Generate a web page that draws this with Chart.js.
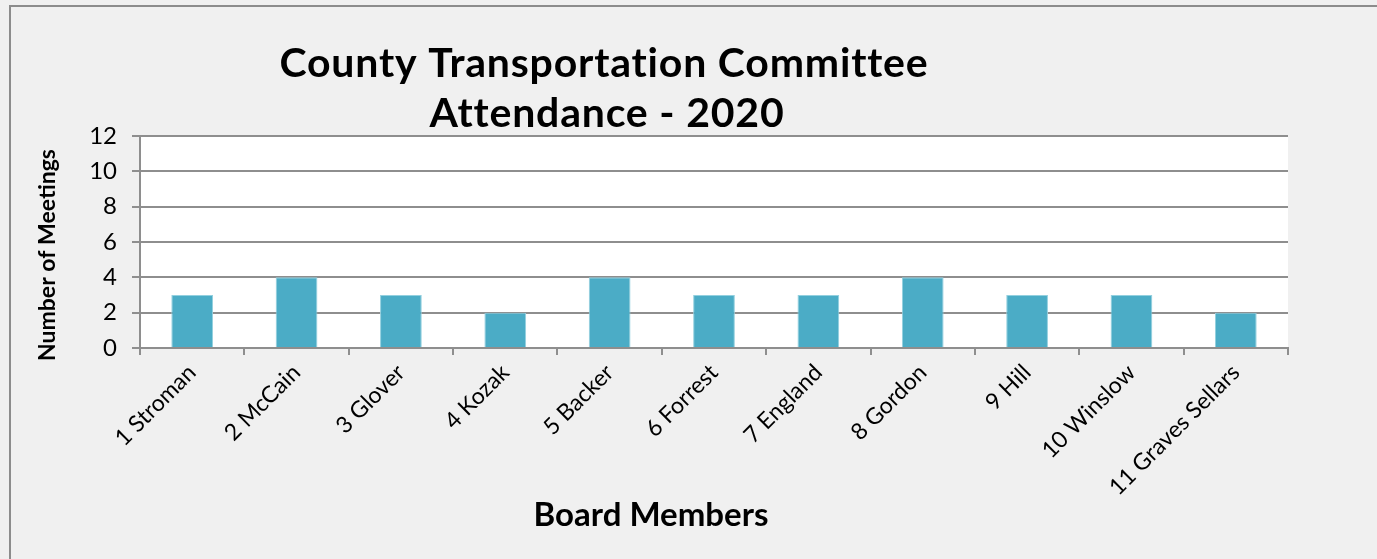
<!DOCTYPE html>
<html>
<head>
<meta charset="utf-8">
<title>County Transportation Committee Attendance - 2020</title>
<script src="https://cdn.jsdelivr.net/npm/chart.js@4"></script>
<style>
  html, body { margin: 0; padding: 0; background: #f0f0f0; }
  #wrap { position: relative; width: 1377px; height: 559px; }
  #frame { position: absolute; left: 9px; top: 5px; right: 0; bottom: 0;
           border-top: 2px solid #8c8c8c; border-left: 2px solid #8c8c8c; }
  canvas { position: absolute; left: 0; top: 0; }
</style>
</head>
<body>
<div id="wrap">
  <div id="frame"></div>
  <canvas id="chartAsistencia" width="1377" height="559"></canvas>
</div>
<script>
// Datos de asistencia por miembro de la junta
const miembros = ['1 Stroman', '2 McCain', '3 Glover', '4 Kozak', '5 Backer', '6 Forrest',
                  '7 England', '8 Gordon', '9 Hill', '10 Winslow', '11 Graves Sellars'];
const reuniones = [3, 4, 3, 2, 4, 3, 3, 4, 3, 3, 2];
const tituloLineas = ['County Transportation Committee', 'Attendance - 2020'];
const tituloEjeY = 'Number of Meetings';
const tituloEjeX = 'Board Members';

const colorRejilla = '#8e8e8e';
const fuente = 'Lato, "Open Sans", sans-serif';

// Fondo blanco del área de trazado
const fondoArea = {
    id: 'fondoArea',
    beforeDraw(chart) {
        const { ctx, chartArea: a } = chart;
        ctx.save();
        ctx.fillStyle = '#ffffff';
        ctx.fillRect(a.left, a.top, a.right - a.left, a.bottom - a.top);
        ctx.restore();
    }
};

// Títulos dibujados en posiciones fijas
const textos = {
    id: 'textos',
    afterDraw(chart) {
        const ctx = chart.ctx;
        ctx.save();
        ctx.fillStyle = '#000000';
        ctx.textAlign = 'center';
        ctx.textBaseline = 'alphabetic';

        // un poco de espaciado evita las ligaduras "tt"
        ctx.letterSpacing = '0.8px';
        ctx.font = `bold 41px ${fuente}`;
        ctx.fillText(tituloLineas[0], 604, 77);
        ctx.fillText(tituloLineas[1], 607, 127);
        ctx.letterSpacing = '0px';

        ctx.font = `bold 33px ${fuente}`;
        ctx.fillText(tituloEjeX, 651, 526);

        ctx.translate(55, 255);
        ctx.rotate(-Math.PI / 2);
        ctx.font = `bold 23px ${fuente}`;
        ctx.fillText(tituloEjeY, 0, 0);
        ctx.restore();
    }
};

const ctxAsistencia = document.getElementById('chartAsistencia').getContext('2d');

const asistenciaChart = new Chart(ctxAsistencia, {
    type: 'bar',
    data: {
        labels: miembros,
        datasets: [{
            data: reuniones,
            backgroundColor: '#4bacc6',
            borderColor: '#93d0df',
            borderWidth: 1,
            barPercentage: 0.4,
            categoryPercentage: 1.0
        }]
    },
    options: {
        responsive: false,
        animation: false,
        layout: { padding: { left: 0, right: 89, top: 136, bottom: 0 } },
        plugins: {
            legend: { display: false },
            title: { display: false },
            tooltip: { enabled: false }
        },
        scales: {
            x: {
                afterFit(scale) { scale.height = 211; },
                grid: {
                    offset: true,
                    drawOnChartArea: false,
                    drawTicks: true,
                    tickLength: 7,
                    color: colorRejilla,
                    lineWidth: 2
                },
                border: { color: colorRejilla, width: 2 },
                ticks: {
                    autoSkip: false,
                    minRotation: 45,
                    maxRotation: 45,
                    padding: 4,
                    color: '#000000',
                    font: { family: fuente, size: 23 }
                }
            },
            y: {
                min: 0,
                max: 12,
                afterFit(scale) { scale.width = 140; },
                grid: {
                    color: colorRejilla,
                    lineWidth: 2,
                    tickLength: 8
                },
                border: { color: colorRejilla, width: 2 },
                ticks: {
                    stepSize: 2,
                    padding: 15,
                    color: '#000000',
                    font: { family: fuente, size: 24 }
                }
            }
        }
    },
    plugins: [fondoArea, textos]
});
</script>
</body>
</html>
